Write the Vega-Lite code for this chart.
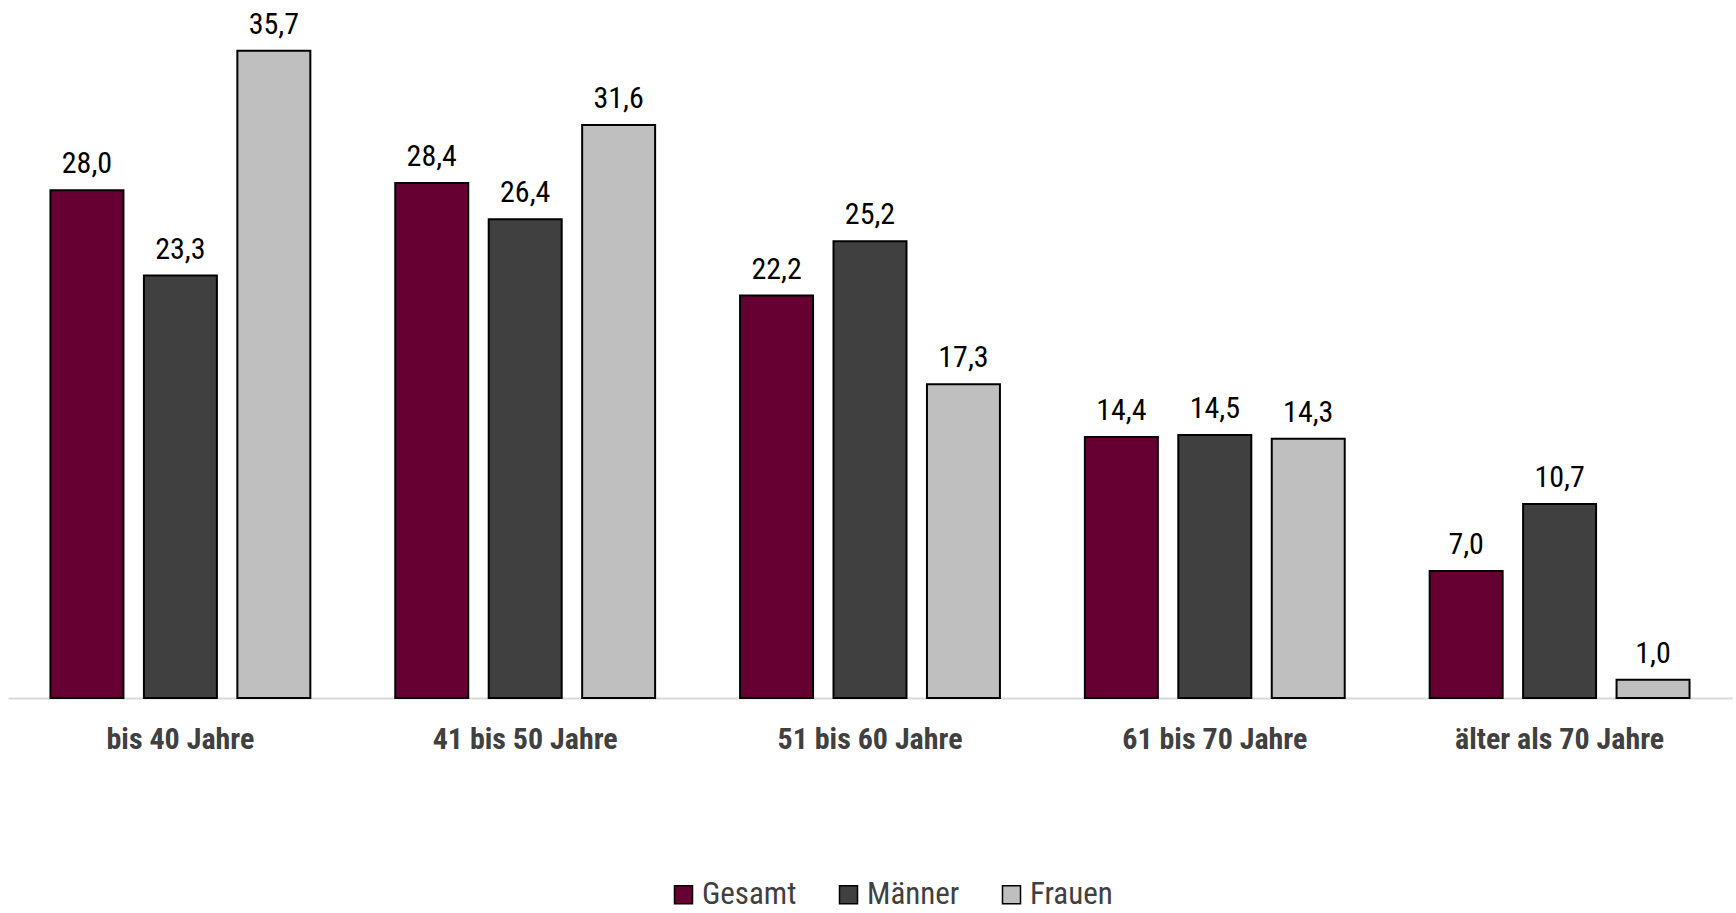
{
  "$schema": "https://vega.github.io/schema/vega-lite/v6.json",
  "autosize": {"type": "none"},
  "padding": {"left": 8, "top": 0, "right": 4, "bottom": 215},
  "width": 1724,
  "height": 698,
  "background": "white",
  "config": {
    "view": {"stroke": null},
    "font": "Liberation Sans Narrow, Arial Narrow, Roboto Condensed, Liberation Sans, sans-serif",
    "locale": {
      "number": {"decimal": ",", "thousands": ".", "grouping": [3], "currency": ["", " €"]}
    }
  },
  "data": {
    "values": [
      {"Alter": "bis 40 Jahre", "Gruppe": "Gesamt", "Wert": 28.0},
      {"Alter": "bis 40 Jahre", "Gruppe": "Männer", "Wert": 23.3},
      {"Alter": "bis 40 Jahre", "Gruppe": "Frauen", "Wert": 35.7},
      {"Alter": "41 bis 50 Jahre", "Gruppe": "Gesamt", "Wert": 28.4},
      {"Alter": "41 bis 50 Jahre", "Gruppe": "Männer", "Wert": 26.4},
      {"Alter": "41 bis 50 Jahre", "Gruppe": "Frauen", "Wert": 31.6},
      {"Alter": "51 bis 60 Jahre", "Gruppe": "Gesamt", "Wert": 22.2},
      {"Alter": "51 bis 60 Jahre", "Gruppe": "Männer", "Wert": 25.2},
      {"Alter": "51 bis 60 Jahre", "Gruppe": "Frauen", "Wert": 17.3},
      {"Alter": "61 bis 70 Jahre", "Gruppe": "Gesamt", "Wert": 14.4},
      {"Alter": "61 bis 70 Jahre", "Gruppe": "Männer", "Wert": 14.5},
      {"Alter": "61 bis 70 Jahre", "Gruppe": "Frauen", "Wert": 14.3},
      {"Alter": "älter als 70 Jahre", "Gruppe": "Gesamt", "Wert": 7.0},
      {"Alter": "älter als 70 Jahre", "Gruppe": "Männer", "Wert": 10.7},
      {"Alter": "älter als 70 Jahre", "Gruppe": "Frauen", "Wert": 1.0}
    ]
  },
  "encoding": {
    "x": {
      "field": "Alter",
      "type": "nominal",
      "sort": null,
      "scale": {"paddingInner": 0, "paddingOuter": 0},
      "axis": {
        "title": null,
        "labelAngle": 0,
        "labelFontSize": 30,
        "labelFontWeight": "bold",
        "labelColor": "#404040",
        "labelPadding": 26,
        "labelLimit": 0,
        "ticks": false,
        "domainColor": "#d9d9d9",
        "domainWidth": 2,
        "grid": false
      }
    },
    "xOffset": {
      "field": "Gruppe",
      "type": "nominal",
      "sort": ["Gesamt", "Männer", "Frauen"],
      "scale": {"paddingInner": 0.219, "paddingOuter": 0.4545}
    },
    "y": {
      "field": "Wert",
      "type": "quantitative",
      "scale": {"domain": [0, 38.5], "nice": false},
      "axis": null
    }
  },
  "layer": [
    {
      "mark": {"type": "bar", "stroke": "black", "strokeWidth": 2},
      "encoding": {
        "color": {
          "field": "Gruppe",
          "type": "nominal",
          "sort": ["Gesamt", "Männer", "Frauen"],
          "scale": {"domain": ["Gesamt", "Männer", "Frauen"], "range": ["#660033", "#404040", "#bfbfbf"]},
          "legend": {
            "title": null,
            "orient": "none",
            "direction": "horizontal",
            "legendX": 660,
            "legendY": 879,
            "symbolType": "square",
            "symbolSize": 324,
            "symbolStrokeColor": "black",
            "symbolStrokeWidth": 1.5,
            "symbolOpacity": 1,
            "labelFontSize": 31,
            "labelColor": "#404040",
            "labelOffset": 3,
            "columnPadding": 36,
            "labelLimit": 300
          }
        }
      }
    },
    {
      "mark": {"type": "text", "baseline": "alphabetic", "dy": -17, "fontSize": 30, "color": "black"},
      "encoding": {
        "text": {"field": "Wert", "type": "quantitative", "format": ".1f", "formatType": "number"}
      }
    }
  ]
}
